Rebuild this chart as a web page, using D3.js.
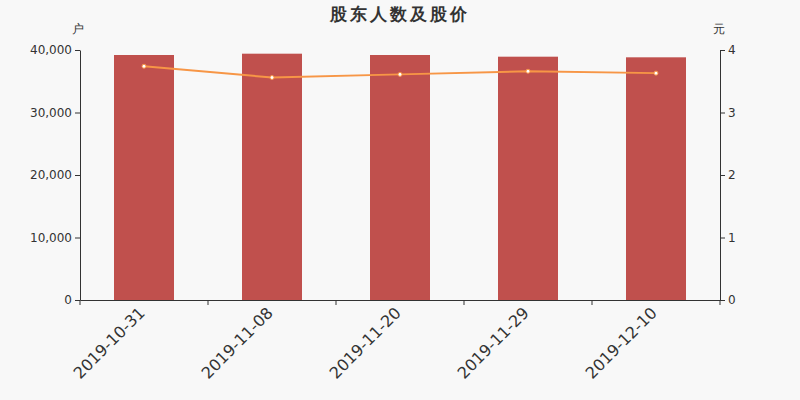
<!DOCTYPE html>
<html>
<head>
<meta charset="utf-8">
<script src="https://cdn.jsdelivr.net/npm/d3@7"></script>
<style>
  body { margin: 0; background: #f8f8f8; }
  svg { display: block; font-family: "DejaVu Sans", sans-serif; }
</style>
</head>
<body>
<svg id="chart" width="800" height="400"></svg>
<script>
var dates = ['2019-10-31', '2019-11-08', '2019-11-20', '2019-11-29', '2019-12-10'];
var holders = [39200, 39410, 39200, 38930, 38830];
var prices = [3.74, 3.56, 3.61, 3.66, 3.63];
var leftTicks = [0, 10000, 20000, 30000, 40000];
var rightTicks = [0, 1, 2, 3, 4];

var margin = { top: 50, right: 80, bottom: 100, left: 80 },
  width = 800 - margin.left - margin.right,
  height = 400 - margin.top - margin.bottom;

var svg = d3.select('#chart');
svg.append('rect').attr('width', 800).attr('height', 400).attr('fill', '#f8f8f8');

// title
svg.append('text')
  .attr('x', 400).attr('y', 20)
  .attr('text-anchor', 'middle')
  .style('font-size', '17px').style('font-weight', 'bold').style('fill', '#333')
  .style('letter-spacing', '3px')
  .text('股东人数及股价');

var g = svg.append('g').attr('transform', 'translate(' + margin.left + ',' + margin.top + ')');

var x = d3.scaleBand().domain(dates).range([0, width]);
var yL = d3.scaleLinear().domain([0, 40000]).range([height, 0]);
var yR = d3.scaleLinear().domain([0, 4]).range([height, 0]);

// bars
g.selectAll('.bar')
  .data(holders)
  .enter()
  .append('rect')
  .attr('x', (d, i) => x(dates[i]) + x.bandwidth() / 2 - 30)
  .attr('y', d => yL(d))
  .attr('width', 60)
  .attr('height', d => height - yL(d))
  .attr('fill', '#c0504d');

// line
var line = d3.line()
  .x((d, i) => x(dates[i]) + x.bandwidth() / 2)
  .y(d => yR(d));

g.append('path')
  .datum(prices)
  .attr('d', line)
  .attr('fill', 'none')
  .attr('stroke', '#f79646')
  .attr('stroke-width', 2);

g.selectAll('.dot')
  .data(prices)
  .enter()
  .append('circle')
  .attr('cx', (d, i) => x(dates[i]) + x.bandwidth() / 2)
  .attr('cy', d => yR(d))
  .attr('r', 2)
  .attr('fill', '#fff')
  .attr('stroke', '#f79646')
  .attr('stroke-width', 1);

// axes
var fmt = d3.format(',');
var axL = g.append('g')
  .call(d3.axisLeft(yL).tickValues(leftTicks).tickFormat(fmt).tickSize(5).tickSizeOuter(0));
var axR = g.append('g').attr('transform', 'translate(' + width + ',0)')
  .call(d3.axisRight(yR).tickValues(rightTicks).tickFormat(d3.format('d')).tickSize(5).tickSizeOuter(0));
var axX = g.append('g').attr('transform', 'translate(0,' + height + ')')
  .call(d3.axisBottom(x).tickSize(0).tickSizeOuter(0));

// boundary ticks on the x axis
axX.selectAll('.bound')
  .data(d3.range(dates.length + 1))
  .enter()
  .append('line')
  .attr('x1', i => i * x.step()).attr('x2', i => i * x.step())
  .attr('y1', 0).attr('y2', 5)
  .attr('stroke', '#333');

[axL, axR, axX].forEach(function (a) {
  a.selectAll('path, line').attr('stroke', '#333');
  a.selectAll('text').style('fill', '#333').style('font-family', '"DejaVu Sans", sans-serif');
});
axL.selectAll('text').style('font-size', '12px').attr('x', -8);
axR.selectAll('text').style('font-size', '12px').attr('x', 8);

axX.selectAll('.tick text')
  .style('font-size', '16px')
  .attr('text-anchor', 'end')
  .attr('dy', '0.35em')
  .attr('transform', 'translate(-2,10) rotate(-45)')
  .attr('y', 0).attr('x', 0);

// unit labels
g.append('text').attr('x', -2).attr('y', -17).attr('text-anchor', 'middle')
  .style('font-size', '12px').style('fill', '#333').text('户');
g.append('text').attr('x', width - 1).attr('y', -17).attr('text-anchor', 'middle')
  .style('font-size', '12px').style('fill', '#333').text('元');
</script>
</body>
</html>
